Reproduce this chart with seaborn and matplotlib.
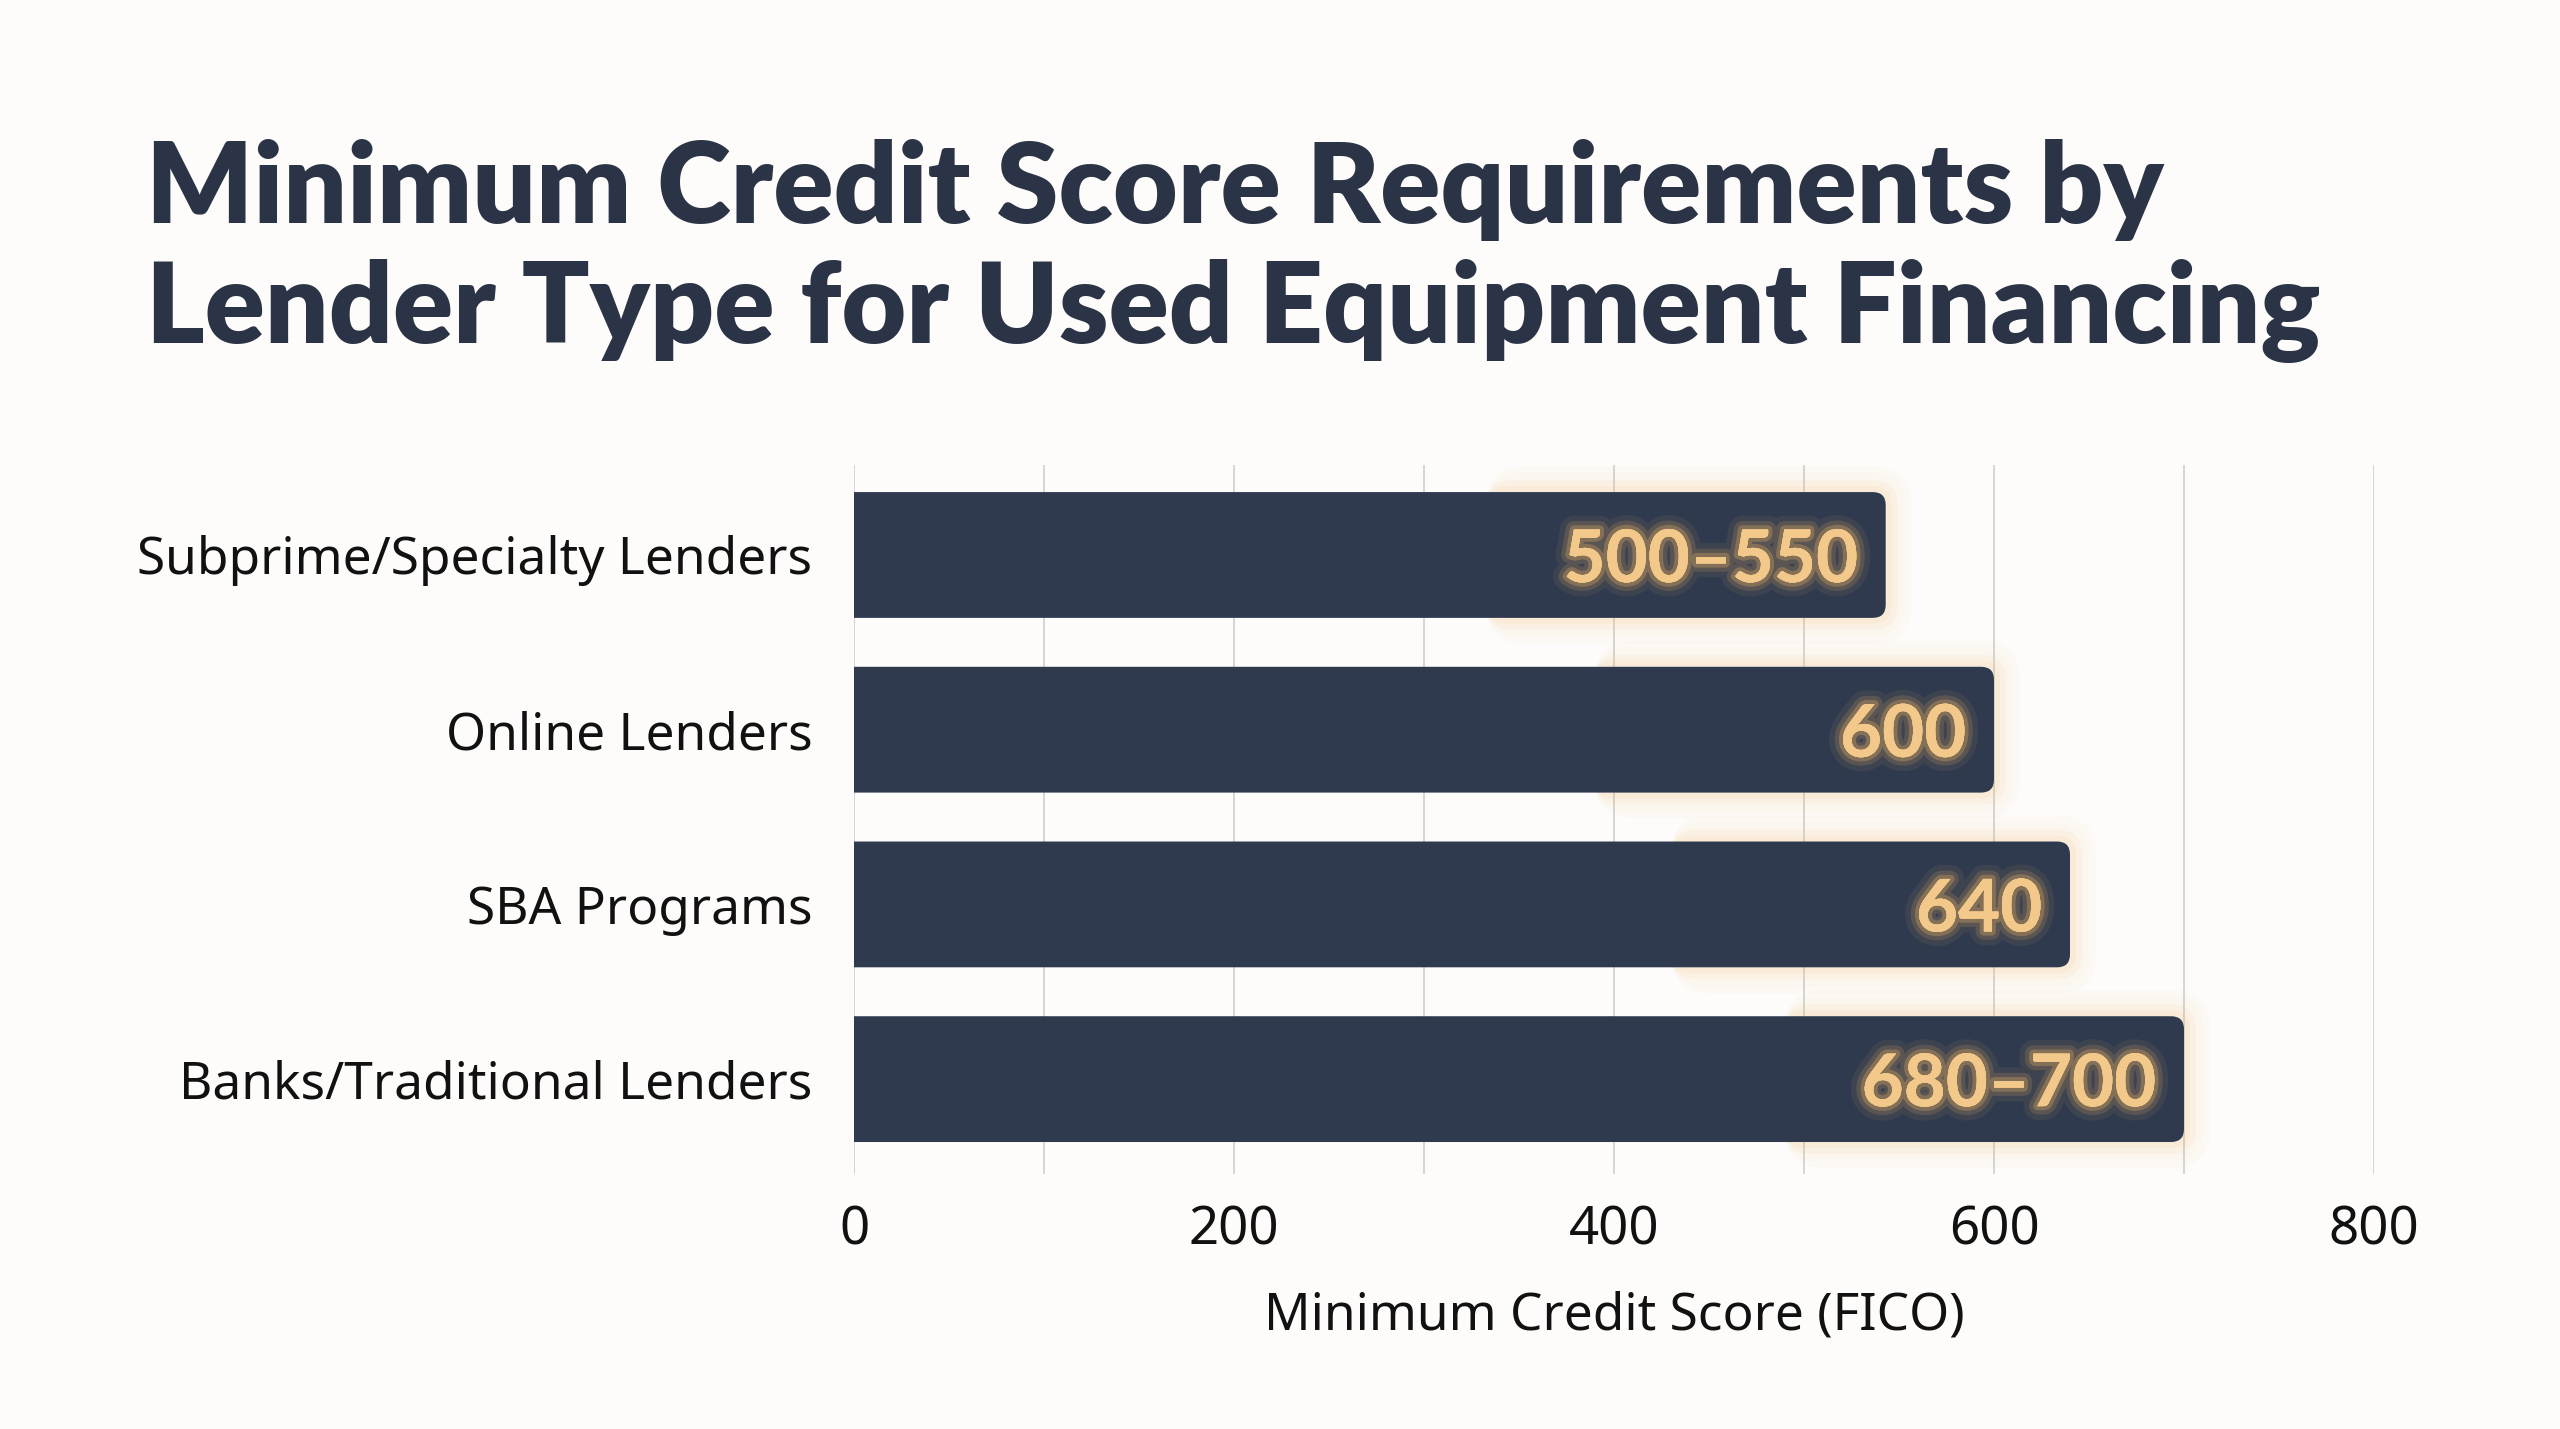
import matplotlib
matplotlib.use("Agg")
import matplotlib.pyplot as plt
import matplotlib.patheffects as pe
from matplotlib.patches import FancyBboxPatch
import seaborn as sns
import pandas as pd

# ---- data ----
categories = ["Subprime/Specialty Lenders", "Online Lenders", "SBA Programs", "Banks/Traditional Lenders"]
values = [543, 600, 640, 700]
bar_labels = ["500–550", "600", "640", "680–700"]
x_ticks = [0, 200, 400, 600, 800]
x_label = "Minimum Credit Score (FICO)"
title_lines = ["Minimum Credit Score Requirements by", "Lender Type for Used Equipment Financing"]

df = pd.DataFrame({"lender": categories, "score": values})

BG = "#fdfcfa"
BAR = "#2f3a4f"
TITLE = "#2b3446"
GOLD = "#f3c98b"
GLOW = "#f2b963"
BOLD_FAM = ["Lato", "DejaVu Sans"]

sns.set_theme(style="white")
plt.rcParams["font.family"] = ["Noto Sans", "DejaVu Sans"]

W, H = 2560, 1429
fig = plt.figure(figsize=(W / 100, H / 100), dpi=100, facecolor=BG)
ax = fig.add_axes([854 / W, 1 - 1174 / H, (2374 - 854) / W, (1174 - 465) / H])
ax.set_facecolor(BG)

sns.barplot(data=df, x="score", y="lender", orient="h", color=BAR, width=0.72, ax=ax, saturation=1)

ax.set_xlim(0, 800)
ax.set_ylim(3.543, -0.515)

xpp = 800 / (2374 - 854)
ypp = 4.058 / (1174 - 465)
aspect = ypp / xpp
r = 13 * xpp

fig.canvas.draw()
renderer = fig.canvas.get_renderer()

label_texts = []
for p, lab in zip(list(ax.patches), bar_labels):
    x0, y0 = p.get_x(), p.get_y()
    w, h = p.get_width(), p.get_height()
    p.set_visible(False)
    for k, a in [(26, 0.03), (19, 0.045), (12, 0.065), (6, 0.09)]:
        dx = k * xpp
        dy = k * ypp
        g = FancyBboxPatch((x0 + w - 210, y0 - dy), 210 + dx, h + 2 * dy,
                           boxstyle=f"round,pad=0,rounding_size={r + dx}",
                           mutation_aspect=aspect, facecolor=GLOW, edgecolor="none",
                           alpha=a, zorder=1)
        ax.add_patch(g)
    bar = FancyBboxPatch((x0 - 20, y0), w + 20, h,
                         boxstyle=f"round,pad=0,rounding_size={r}",
                         mutation_aspect=aspect, facecolor=BAR, edgecolor="none", zorder=2)
    ax.add_patch(bar)
    t = ax.text(x0 + w - 28 * xpp, y0 + h / 2, lab, ha="right", va="center_baseline",
                fontsize=48, fontweight="bold", color=GOLD, zorder=4, family=BOLD_FAM)
    t.set_path_effects([
        pe.withStroke(linewidth=20, foreground=GLOW, alpha=0.08),
        pe.withStroke(linewidth=12, foreground=GLOW, alpha=0.16),
        pe.withStroke(linewidth=6, foreground=GLOW, alpha=0.28),
        pe.Normal(),
    ])
    label_texts.append(t)

wpx = label_texts[0].get_window_extent(renderer).width
fs = 48 * 294 / wpx
for t in label_texts:
    t.set_fontsize(fs)

# grid
ax.set_xticks(x_ticks)
ax.grid(False)
for xv in range(0, 801, 100):
    ax.axvline(xv, color="#d2d2d2", lw=1.3, zorder=0)
for s in ax.spines.values():
    s.set_visible(False)
ax.tick_params(axis="x", which="both", length=0, pad=22, labelsize=38, labelcolor="#111111")
ax.tick_params(axis="y", length=0, pad=30, labelsize=37, labelcolor="#111111")
ax.set_ylabel("")
ax.set_xlabel(x_label, fontsize=37, color="#111111", labelpad=24)

# title
t1 = fig.text(146 / W, 1 - 223 / H, title_lines[0], ha="left", va="baseline",
              fontsize=74, fontweight="heavy", color=TITLE, family=BOLD_FAM)
t2 = fig.text(146 / W, 1 - 343 / H, title_lines[1], ha="left", va="baseline",
              fontsize=74, fontweight="heavy", color=TITLE, family=BOLD_FAM)
target = 2319 - 146
wpx = t2.get_window_extent(renderer).width
fs = 74 * target / wpx
t1.set_fontsize(fs)
t2.set_fontsize(fs)

fig.savefig("out.png", dpi=100, facecolor=BG)
